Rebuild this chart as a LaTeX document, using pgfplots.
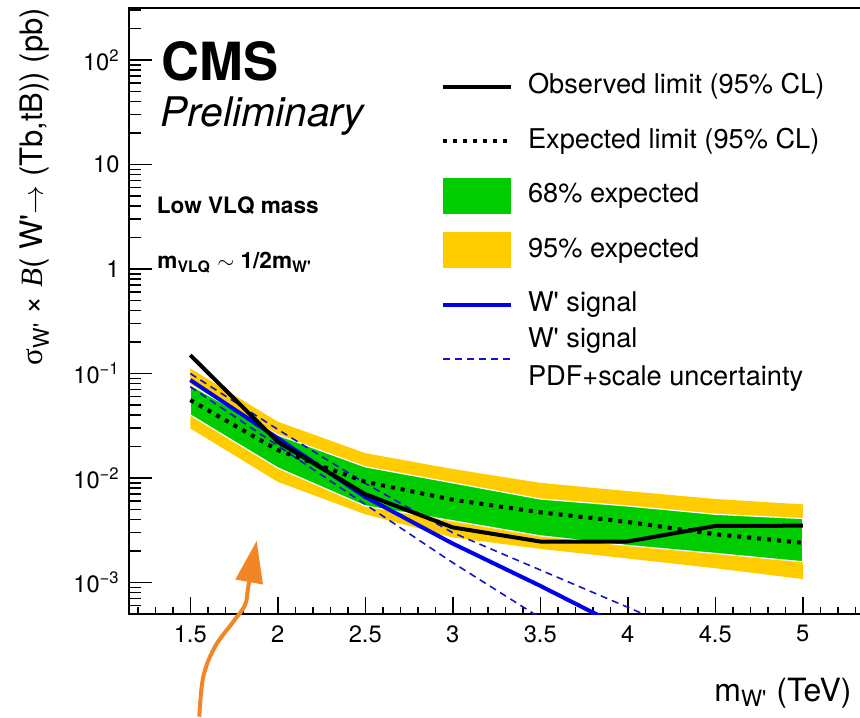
\documentclass[border=0pt]{standalone}
\usepackage{fontspec}
\setmainfont{TeX Gyre Heros}
\newfontfamily\symfont{Liberation Serif}
\usepackage{pgfplots}
\pgfplotsset{compat=1.18}
\usetikzlibrary{arrows.meta}
\definecolor{cmsgreen}{RGB}{0,204,0}
\definecolor{cmsyellow}{RGB}{255,204,0}
\definecolor{sigblue}{RGB}{0,0,235}
\definecolor{dashblue}{RGB}{20,20,200}
\definecolor{arroworange}{RGB}{242,134,38}
\newcommand{\Wp}{W\textquotesingle}
\begin{document}
\begin{tikzpicture}
\begin{axis}[
  at={(0,0)}, anchor=south west,
  scale only axis,
  width=380.625pt, height=303.125pt,
  xmin=1.15, xmax=5.5,
  ymode=log, ymin=5e-4, ymax=316.2278,
  axis line style={line width=1pt},
  tick align=inside,
  xtick pos=bottom, ytick pos=left,
  every tick/.style={black, line width=0.75pt},
  major tick length=11.5pt, minor tick length=6pt,
  xtick style={/pgfplots/major tick length=8.5pt, /pgfplots/minor tick length=3.5pt},
  xtick={1.5,2,2.5,3,3.5,4,4.5,5,5.5},
  xticklabels={1.5,2,2.5,3,3.5,4,4.5,5,{}},
  minor xtick={1.2,1.3,1.4,1.6,1.7,1.8,1.9,2.1,2.2,2.3,2.4,2.6,2.7,2.8,2.9,3.1,3.2,3.3,3.4,3.6,3.7,3.8,3.9,4.1,4.2,4.3,4.4,4.6,4.7,4.8,4.9,5.1,5.2,5.3,5.4},
  ytick={1e-3,1e-2,1e-1,1,10,100},
  yticklabels={10\textsuperscript{\textminus3},10\textsuperscript{\textminus2},10\textsuperscript{\textminus1},1,10,10\textsuperscript{2}},
  minor ytick={5e-4,6e-4,7e-4,8e-4,9e-4,2e-3,3e-3,4e-3,5e-3,6e-3,7e-3,8e-3,9e-3,2e-2,3e-2,4e-2,5e-2,6e-2,7e-2,8e-2,9e-2,0.2,0.3,0.4,0.5,0.6,0.7,0.8,0.9,2,3,4,5,6,7,8,9,20,30,40,50,60,70,80,90,200,300},
  tick label style={font=\fontsize{11.85pt}{14pt}\selectfont},
  xticklabel style={inner sep=0pt, yshift=-5.5pt},
  yticklabel style={inner sep=0pt, xshift=-4.5pt},
  xlabel={m\textsubscript{\Wp} (TeV)},
  xlabel style={at={(axis description cs:0.7685,-0.1447)}, anchor=base west, inner sep=0pt, font=\fontsize{16pt}{19pt}\selectfont},
  ylabel={{\symfont σ}\textsubscript{\Wp} × {\symfont\itshape B}( \Wp$\rightarrow$ (Tb,tB)) (pb)},
  ylabel style={at={(axis description cs:-0.113,1)}, anchor=base east, inner sep=0pt, font=\fontsize{15.5pt}{18pt}\selectfont},
  legend cell align=left,
  legend style={at={(axis description cs:0.4099,0.899)}, anchor=north west, draw=none, fill=none,
    inner sep=0pt, outer sep=0pt, row sep=9.2pt, column sep=7.5pt,
    font=\fontsize{13.6pt}{19pt}\selectfont,
    nodes={inner sep=0pt, text height=9.8pt, text depth=2.86pt}},
]
% legend entries
\addlegendimage{legend image code/.code={\path[draw=none,fill=none] (0pt,-9pt) rectangle (34pt,9pt); \draw[draw=black,line width=2pt] (0pt,0pt) -- (34pt,0pt);}}
\addlegendentry{Observed limit (95\% CL)}
\addlegendimage{legend image code/.code={\path[draw=none,fill=none] (0pt,-9pt) rectangle (34pt,9pt); \draw[draw=black,line width=2pt,dash pattern=on 2pt off 3pt] (0pt,0pt) -- (34pt,0pt);}}
\addlegendentry{Expected limit (95\% CL)}
\addlegendimage{legend image code/.code={\path[draw=none,fill=cmsgreen] (0pt,-9pt) rectangle (34pt,9pt);}}
\addlegendentry{68\% expected}
\addlegendimage{legend image code/.code={\path[draw=none,fill=cmsyellow] (0pt,-9pt) rectangle (34pt,9pt);}}
\addlegendentry{95\% expected}
\addlegendimage{legend image code/.code={\path[draw=none,fill=none] (0pt,-9pt) rectangle (34pt,9pt); \draw[draw=sigblue,line width=2pt] (0pt,0pt) -- (34pt,0pt);}}
\addlegendentry{\Wp\ signal}
\addlegendimage{legend image code/.code={\path[draw=none,fill=none] (0pt,-9pt) rectangle (34pt,9pt); \draw[draw=dashblue,line width=0.8pt,dash pattern=on 3.5pt off 2.5pt] (0pt,0pt) -- (34pt,0pt);}}
\addlegendentry{\begin{tabular}{@{}l@{}}\Wp\ signal\\PDF+scale uncertainty\end{tabular}}

% 95% band
\addplot[fill=cmsyellow, draw=none, forget plot] coordinates {
 (1.5,0.112) (2,0.0346) (2.5,0.0173) (3,0.0122) (3.5,0.0090) (4,0.0075) (4.5,0.0063) (5,0.0056)
 (5,0.00108) (4.5,0.00137) (4,0.0017) (3.5,0.0021) (3,0.0027) (2.5,0.0045) (2,0.0092) (1.5,0.0299)} -- cycle;
% 68% band
\addplot[fill=cmsgreen, draw=white, line width=0.6pt, forget plot] coordinates {
 (1.5,0.078) (2,0.0258) (2.5,0.0128) (3,0.0090) (3.5,0.0063) (4,0.0054) (4.5,0.0045) (5,0.0041)
 (5,0.00158) (4.5,0.0019) (4,0.00226) (3.5,0.0028) (3,0.0039) (2.5,0.0054) (2,0.0125) (1.5,0.0401)} -- cycle;
% signal uncertainty
\addplot[dashblue, line width=0.8pt, dash pattern=on 3.5pt off 2.5pt, forget plot] coordinates {
 (1.5,0.100) (2,0.0292) (2.5,0.0089) (3,0.0030) (3.5,0.00132) (4,0.00058) (4.5,0.00025) (5,0.00011)};
\addplot[dashblue, line width=0.8pt, dash pattern=on 3.5pt off 2.5pt, forget plot] coordinates {
 (1.5,0.0748) (2,0.0204) (2.5,0.0056) (3,0.00155) (3.5,0.00046) (4,0.00012) (4.5,0.000035) (5,0.00001)};
% signal
\addplot[sigblue, line width=2pt, forget plot] coordinates {
 (1.5,0.0867) (2,0.0240) (2.5,0.0066) (3,0.00236) (3.5,0.00093) (4,0.00035) (4.5,0.00013) (5,0.00005)};
% expected
\addplot[black, line width=2pt, dash pattern=on 2pt off 3pt, forget plot] coordinates {
 (1.5,0.0557) (2,0.0185) (2.5,0.0092) (3,0.0062) (3.5,0.0047) (4,0.0038) (4.5,0.0029) (5,0.0024)};
% observed
\addplot[black, line width=2pt, forget plot] coordinates {
 (1.5,0.150) (2,0.0222) (2.5,0.0070) (3,0.00337) (3.5,0.00247) (4,0.00247) (4.5,0.00348) (5,0.00350)};

\node[anchor=base west, inner sep=0pt, font=\bfseries\fontsize{26.3pt}{30pt}\selectfont] at (axis description cs:0.042,0.8808) {CMS};
\node[anchor=base west, inner sep=0pt, font=\itshape\fontsize{20.4pt}{24pt}\selectfont] at (axis description cs:0.0407,0.8033) {Preliminary};
\node[anchor=base west, inner sep=0pt, font=\bfseries\fontsize{11.3pt}{14pt}\selectfont] at (axis description cs:0.0361,0.6614) {Low VLQ mass};
\node[anchor=base west, inner sep=0pt, font=\bfseries\fontsize{11.3pt}{14pt}\selectfont] at (axis description cs:0.0368,0.5707) {m\textsubscript{VLQ} ${\sim}$ 1/2m\textsubscript{\Wp}};
\end{axis}
\begin{scope}[shift={(-64.5pt,307pt)}, x=0.5pt, y=-0.5pt]
\draw[arroworange, line width=2pt, -{Triangle[length=21pt, width=13.5pt]}]
  plot[smooth, tension=0.6] coordinates {(199.3,716.7) (203.3,676.7) (215,646.7) (233.3,621.7) (245,605) (248.3,586.7) (256.7,540.7)};
\end{scope}
\pgfresetboundingbox
\useasboundingbox (-64.5pt,-51.5pt) rectangle (365.5pt,307pt);
\end{tikzpicture}
\end{document}
